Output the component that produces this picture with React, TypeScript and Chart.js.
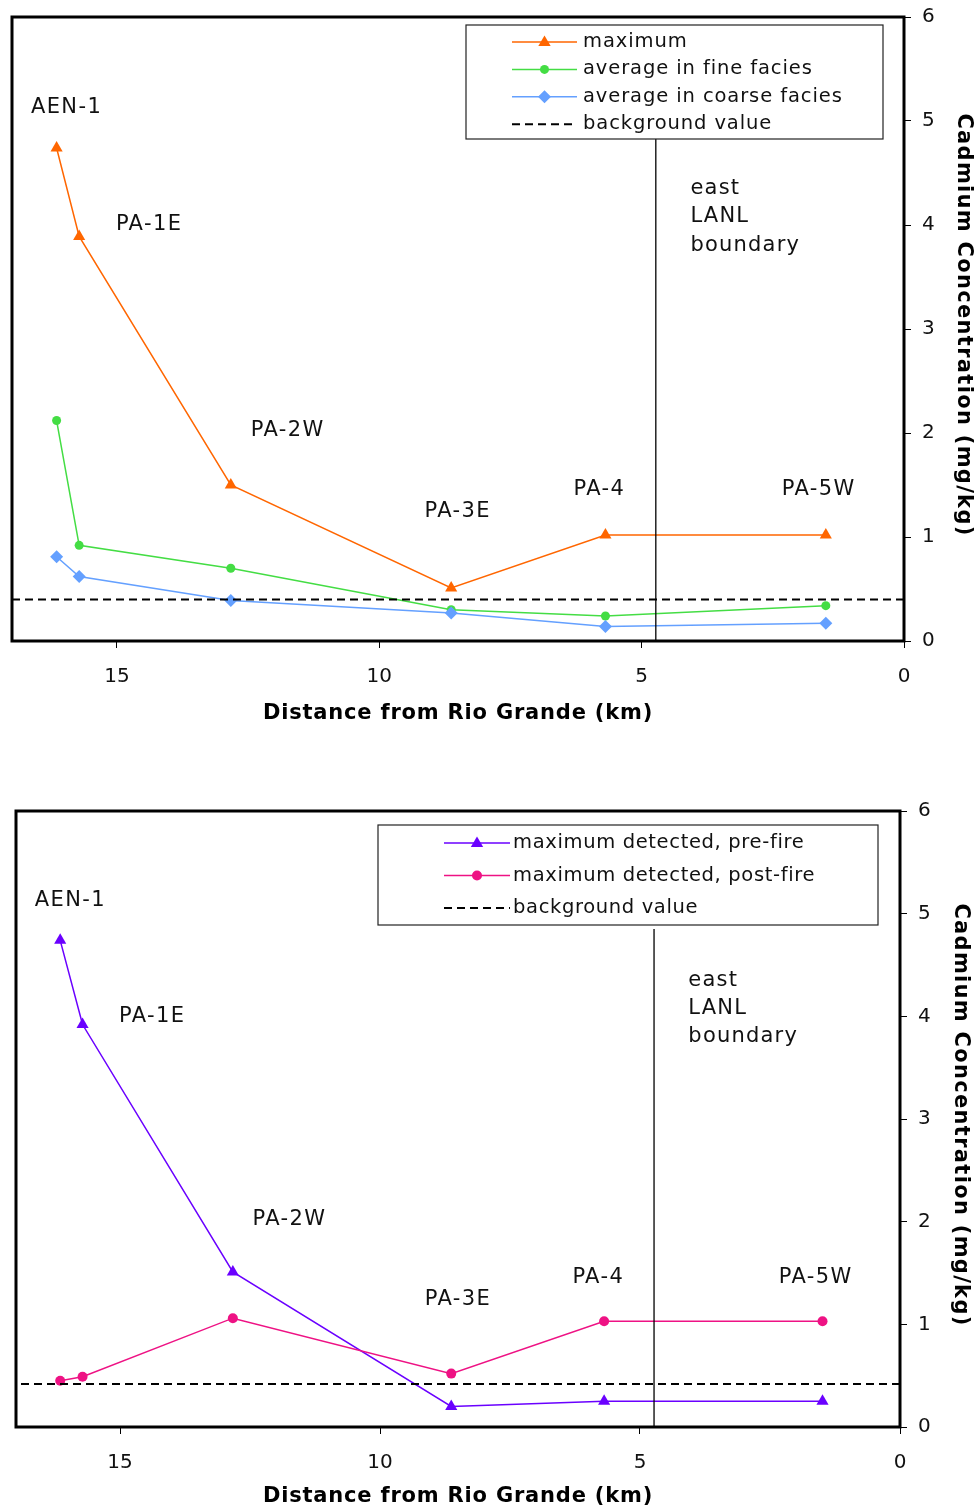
import React, { useEffect, useRef } from 'react';
import { Chart, registerables } from 'chart.js';

Chart.register(...registerables);

// ---------- data ----------
const distanceKm = [16.15, 15.72, 12.83, 8.63, 5.69, 1.49];
const maximumCd = [4.74, 3.89, 1.5, 0.51, 1.02, 1.02];
const fineFaciesAvg = [2.12, 0.92, 0.7, 0.3, 0.24, 0.34];
const coarseFaciesAvg = [0.81, 0.62, 0.39, 0.27, 0.14, 0.17];
const preFireMax = [4.74, 3.92, 1.51, 0.2, 0.25, 0.25];
const postFireMax = [0.45, 0.49, 1.06, 0.52, 1.03, 1.03];
const backgroundTop = 0.4;
const backgroundBottom = 0.42;
const boundaryKm = 4.73;
const boundaryLineTopValue = [4.83, 4.85];

const stationNames = ['AEN-1', 'PA-1E', 'PA-2W', 'PA-3E', 'PA-4', 'PA-5W'];
const stationLabelX = [16.64, 15.02, 12.45, 9.14, 6.3, 2.33];
const stationLabelY = [5.15, 4.02, 2.04, 1.26, 1.48, 1.48];
const boundaryLabelLines = ['east', 'LANL', 'boundary'];
const boundaryLabelX = 4.07;
const boundaryLabelY = [4.37, 4.1, 3.82];

const xMin = 0;
const xMax = 17;
const xStep = 5;
const yMin = 0;
const yMax = 6;
const yStep = 1;

const xTitle = 'Distance from Rio Grande (km)';
const yTitle = 'Cadmium Concentration (mg/kg)';

const topLegendLabels = ['maximum', 'average in fine facies', 'average in coarse facies', 'background value'];
const bottomLegendLabels = ['maximum detected, pre-fire', 'maximum detected, post-fire', 'background value'];

// ---------- styles ----------
const ORANGE = '#FF6600';
const GREEN = '#44DD44';
const BLUE = '#64A0FF';
const PURPLE = '#6A00FF';
const PINK = '#EE1284';
const FONT = '"DejaVu Sans", Verdana, sans-serif';

const pts = (ys: number[]) => distanceKm.map((x, i) => ({ x, y: ys[i] }));

function seriesDataset(label: string, ys: number[], color: string, style: string, radius: number) {
  return {
    label,
    data: pts(ys),
    showLine: true,
    borderColor: color,
    backgroundColor: color,
    borderWidth: 1.5,
    pointStyle: style,
    pointRadius: radius,
    pointBorderWidth: 0,
    pointHoverRadius: radius,
  };
}

function bgDataset(v: number) {
  return {
    label: 'background value',
    data: [{ x: xMin, y: v }, { x: xMax, y: v }],
    showLine: true,
    borderColor: '#000',
    borderWidth: 2,
    borderDash: [8, 5],
    pointRadius: 0,
  };
}

function boundaryDataset(top: number) {
  return {
    label: 'boundary',
    data: [{ x: boundaryKm, y: 0 }, { x: boundaryKm, y: top }],
    showLine: true,
    borderColor: '#000',
    borderWidth: 1.3,
    pointRadius: 0,
  };
}

function drawMarker(ctx: CanvasRenderingContext2D, style: string, x: number, y: number, r: number, color: string) {
  ctx.fillStyle = color;
  ctx.beginPath();
  if (style === 'triangle') {
    ctx.moveTo(x, y - r);
    ctx.lineTo(x + r * 0.95, y + r * 0.6);
    ctx.lineTo(x - r * 0.95, y + r * 0.6);
    ctx.closePath();
  } else if (style === 'rectRot') {
    ctx.moveTo(x, y - r);
    ctx.lineTo(x + r, y);
    ctx.lineTo(x, y + r);
    ctx.lineTo(x - r, y);
    ctx.closePath();
  } else {
    ctx.arc(x, y, r, 0, Math.PI * 2);
  }
  ctx.fill();
}

const LABEL_DY = 2;

const decorPlugin = {
  id: 'decor',
  afterDraw(chart: any, _args: any, opts: any) {
    const { ctx, chartArea: a } = chart;
    const xs = chart.scales.x;
    const ys = chart.scales.y;
    ctx.save();
    // frame
    ctx.strokeStyle = '#000';
    ctx.lineWidth = 3;
    ctx.setLineDash([]);
    ctx.strokeRect(a.left, a.top, a.right - a.left, a.bottom - a.top);

    // station labels
    ctx.font = `21px ${FONT}`;
    ctx.fillStyle = '#111';
    ctx.textAlign = 'left';
    ctx.textBaseline = 'middle';
    (ctx as any).letterSpacing = '1.4px';
    stationNames.forEach((n, i) => {
      ctx.fillText(n, xs.getPixelForValue(stationLabelX[i]), ys.getPixelForValue(stationLabelY[i]) + LABEL_DY);
    });
    (ctx as any).letterSpacing = '1.2px';
    boundaryLabelLines.forEach((t, i) => {
      ctx.fillText(t, xs.getPixelForValue(boundaryLabelX), ys.getPixelForValue(boundaryLabelY[i]) + LABEL_DY);
    });

    // axis titles
    ctx.font = `bold 21px ${FONT}`;
    ctx.fillStyle = '#000';
    ctx.textAlign = 'center';
    (ctx as any).letterSpacing = '0.8px';
    ctx.fillText(xTitle, (a.left + a.right) / 2, a.bottom + opts.xTitleOffset);
    (ctx as any).letterSpacing = '1.3px';
    ctx.save();
    ctx.translate(opts.yTitleX, (a.top + a.bottom) / 2 - 4);
    ctx.rotate(Math.PI / 2);
    ctx.fillText(yTitle, 0, 0);
    ctx.restore();

    // legend (page coordinates)
    ctx.translate(0, -opts.canvasTop);
    const lg = opts.legend;
    ctx.fillStyle = '#fff';
    ctx.fillRect(lg.left, lg.top, lg.right - lg.left, lg.bottom - lg.top);
    ctx.strokeStyle = '#222';
    ctx.lineWidth = 1.2;
    ctx.strokeRect(lg.left, lg.top, lg.right - lg.left, lg.bottom - lg.top);
    (ctx as any).letterSpacing = lg.spacing;
    ctx.font = `19.5px ${FONT}`;
    ctx.textAlign = 'left';
    lg.items.forEach((it: any, i: number) => {
      const yy = lg.firstRow + i * lg.rowGap;
      ctx.beginPath();
      ctx.strokeStyle = it.color;
      ctx.lineWidth = it.dash ? 2 : 1.5;
      ctx.setLineDash(it.dash ? [8, 5] : []);
      ctx.moveTo(lg.sample0, yy);
      ctx.lineTo(lg.sample1, yy);
      ctx.stroke();
      ctx.setLineDash([]);
      if (it.style) drawMarker(ctx, it.style, (lg.sample0 + lg.sample1) / 2, yy, it.r, it.color);
      ctx.fillStyle = '#111';
      ctx.fillText(it.label, lg.textX, yy);
    });
    ctx.restore();
  },
};

function makeScales(xh: number, yw: number) {
  const tickFont = { family: FONT, size: 20 };
  return {
    x: {
      type: 'linear',
      reverse: true,
      position: 'bottom',
      min: xMin,
      max: xMax,
      ticks: { stepSize: xStep, includeBounds: false, font: tickFont, color: '#111', padding: 17, maxRotation: 0 },
      grid: { drawOnChartArea: false, drawTicks: true, tickLength: 7, color: '#000', lineWidth: 1 },
      border: { display: false },
      afterFit: (s: any) => { s.height = xh; },
    },
    y: {
      type: 'linear',
      position: 'right',
      min: yMin,
      max: yMax,
      ticks: { stepSize: yStep, font: tickFont, color: '#111', padding: 11 },
      grid: { drawOnChartArea: false, drawTicks: true, tickLength: 7, color: '#000', lineWidth: 1 },
      border: { display: false },
      afterFit: (s: any) => { s.width = yw; },
    },
  };
}

function Panel({ config, width, height, top }: { config: any; width: number; height: number; top: number }) {
  const ref = useRef<HTMLCanvasElement | null>(null);
  useEffect(() => {
    if (!ref.current) return;
    const chart = new Chart(ref.current, config);
    return () => chart.destroy();
  }, []);
  return (
    <div style={{ position: 'absolute', left: 0, top, width, height }}>
      <canvas ref={ref} width={width} height={height} style={{ width, height, display: 'block' }} />
    </div>
  );
}

const TOP_CANVAS_Y = -20;
const BOTTOM_CANVAS_Y = 750;

const topConfig: any = {
  type: 'scatter',
  data: {
    datasets: [
      boundaryDataset(boundaryLineTopValue[0]),
      bgDataset(backgroundTop),
      seriesDataset(topLegendLabels[2], coarseFaciesAvg, BLUE, 'rectRot', 6.5),
      seriesDataset(topLegendLabels[1], fineFaciesAvg, GREEN, 'circle', 4.5),
      seriesDataset(topLegendLabels[0], maximumCd, ORANGE, 'triangle', 7),
    ],
  },
  options: {
    animation: false,
    responsive: false,
    devicePixelRatio: 1,
    layout: { padding: { left: 12, top: 37, right: 0, bottom: 0 } },
    scales: makeScales(109, 75),
    plugins: {
      legend: { display: false },
      tooltip: { enabled: false },
      decor: {
        canvasTop: TOP_CANVAS_Y,
        xTitleOffset: 73,
        yTitleX: 963,
        legend: {
          left: 466, top: 25, right: 883, bottom: 139, spacing: '0.9px',
          firstRow: 42, rowGap: 27.4, sample0: 512, sample1: 577, textX: 583,
          items: [
            { label: topLegendLabels[0], color: ORANGE, style: 'triangle', r: 6.5 },
            { label: topLegendLabels[1], color: GREEN, style: 'circle', r: 4.5 },
            { label: topLegendLabels[2], color: BLUE, style: 'rectRot', r: 6.5 },
            { label: topLegendLabels[3], color: '#000', dash: true },
          ],
        },
      },
    },
  },
  plugins: [decorPlugin],
};

const bottomConfig: any = {
  type: 'scatter',
  data: {
    datasets: [
      boundaryDataset(boundaryLineTopValue[1]),
      bgDataset(backgroundBottom),
      seriesDataset(bottomLegendLabels[1], postFireMax, PINK, 'circle', 5),
      seriesDataset(bottomLegendLabels[0], preFireMax, PURPLE, 'triangle', 7),
    ],
  },
  options: {
    animation: false,
    responsive: false,
    devicePixelRatio: 1,
    layout: { padding: { left: 16, top: 61, right: 0, bottom: 0 } },
    scales: makeScales(79, 79),
    plugins: {
      legend: { display: false },
      tooltip: { enabled: false },
      decor: {
        canvasTop: BOTTOM_CANVAS_Y,
        xTitleOffset: 70,
        yTitleX: 960,
        legend: {
          left: 378, top: 825, right: 878, bottom: 925, spacing: '0.65px',
          firstRow: 843, rowGap: 32.5, sample0: 444, sample1: 510, textX: 513,
          items: [
            { label: bottomLegendLabels[0], color: PURPLE, style: 'triangle', r: 6.5 },
            { label: bottomLegendLabels[1], color: PINK, style: 'circle', r: 5 },
            { label: bottomLegendLabels[2], color: '#000', dash: true },
          ],
        },
      },
    },
  },
  plugins: [decorPlugin],
};

export default function App() {
  return (
    <div style={{ position: 'absolute', left: 0, top: 0, width: 979, height: 1506, background: '#fff', overflow: 'hidden' }}>
      <Panel config={topConfig} width={979} height={770} top={TOP_CANVAS_Y} />
      <Panel config={bottomConfig} width={979} height={756} top={BOTTOM_CANVAS_Y} />
    </div>
  );
}
